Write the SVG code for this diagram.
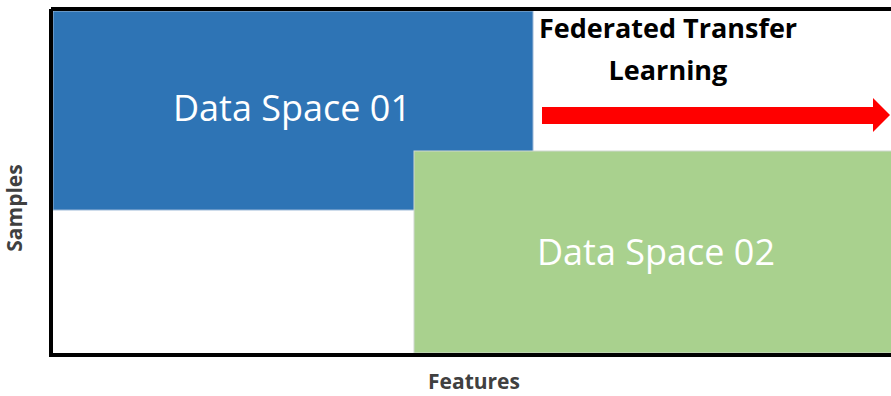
<svg xmlns="http://www.w3.org/2000/svg" width="891" height="396" viewBox="0 0 891 396">
  <style>
    .space-label { font-family: "Open Sans", "Noto Sans", sans-serif; font-size: 36px; fill: #ffffff; text-anchor: middle; }
    .axis-label { font-family: "Open Sans", "Noto Sans", sans-serif; font-size: 21px; font-weight: bold; fill: #404040; text-anchor: middle; }
    .title { font-family: "Open Sans", "Noto Sans", sans-serif; font-size: 27px; font-weight: bold; fill: #000000; text-anchor: middle; }
  </style>
  <rect x="0" y="0" width="891" height="396" fill="#ffffff"/>

  <g id="data-space-01">
    <rect x="53" y="11" width="480" height="199" fill="#2E74B5" stroke="#9DB9D8" stroke-width="1"/>
    <text class="space-label" x="292" y="121">Data Space 01</text>
  </g>

  <g id="data-space-02">
    <rect x="414" y="151" width="480" height="202" fill="#A9D18E" stroke="#D0D8D0" stroke-width="1"/>
    <text class="space-label" x="656" y="265">Data Space 02</text>
  </g>

  <g id="axes">
    <path d="M51 9 H891 M51 9 V355 H891" fill="none" stroke="#000000" stroke-width="4"/>
    <text class="axis-label" x="474" y="389">Features</text>
    <text class="axis-label" transform="translate(22 208) rotate(-90)">Samples</text>
  </g>

  <g id="transfer">
    <text class="title" x="668" y="38">Federated Transfer</text>
    <text class="title" x="668" y="80">Learning</text>
    <polygon points="542,107 873,107 873,98 890,115 873,132 873,124 542,124" fill="#FF0000"/>
  </g>
</svg>
